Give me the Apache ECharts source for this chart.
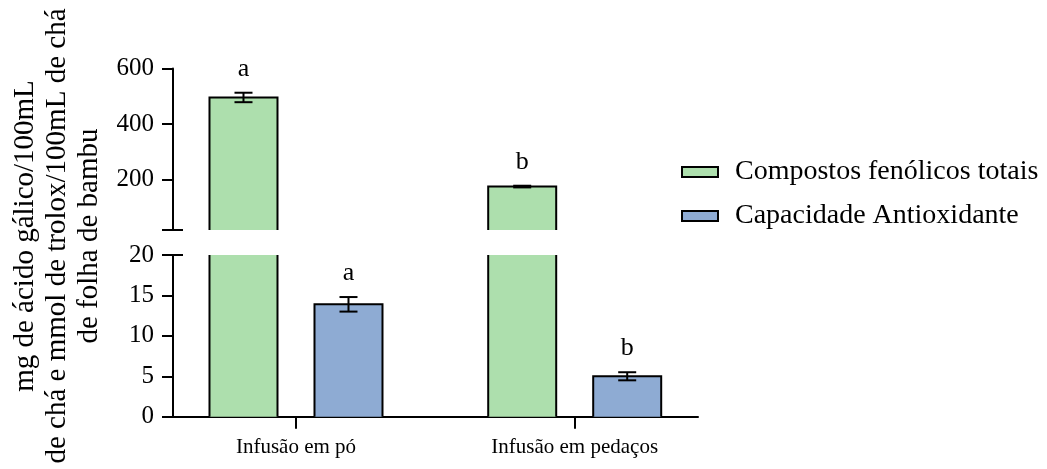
<!DOCTYPE html>
<html>
<head>
<meta charset="utf-8">
<script src="https://cdn.jsdelivr.net/npm/echarts@6/dist/echarts.min.js"></script>
<style>html,body{margin:0;padding:0;background:#fff}#c{width:1047px;height:469px}</style>
</head>
<body>
<div id="c"></div>
<script>
// ---- data ----
const categories = ['Infusão em pó', 'Infusão em pedaços'];
const fenolicos = [496, 176];
const fenolicosErr = [17, 3];
const fenolicosLetters = ['a', 'b'];
const antioxidante = [13.9, 5.0];
const antioxidanteErr = [0.9, 0.5];
const antioxidanteLetters = ['a', 'b'];
const topTicks = [200, 400, 600];
const bottomTicks = [0, 5, 10, 15, 20];
const seriesNames = ['Compostos fenólicos totais', 'Capacidade Antioxidante'];
const yTitle = 'mg de ácido gálico/100mL\nde chá e mmol de trolox/100mL de chá\nde folha de bambu';

// ---- styling ----
const FONT = "'Liberation Serif', 'Times New Roman', serif";
const GREEN = '#addfad';
const BLUE = '#8eabd3';
const TOP_RANGE = [20, 600];
const BOT_RANGE = [0, 20];
const X_RANGE = [-0.4413, 1.4424];

const chart = echarts.init(document.getElementById('c'), null, {renderer: 'canvas'});

function makeSeries(name, gridIdx, yAxisIdx, values, errs, letters, side, color, range) {
  const data = values.map((v, i) => [i, v, errs[i]]);
  return {
    type: 'custom',
    name: name,
    xAxisIndex: gridIdx,
    yAxisIndex: yAxisIdx,
    itemStyle: {color: color},
    encode: {x: 0, y: 1},
    data: data,
    renderItem: function (params, api) {
      const idx = api.value(0), v = api.value(1), e = api.value(2);
      const ymin = range[0], ymax = range[1];
      if (v <= ymin) return;
      const half = 34;
      const cx = api.coord([idx, ymin])[0] + side * 52.5;
      const yBase = api.coord([idx, Math.max(ymin, 0)])[1];
      const clipped = v > ymax;
      const yTop = api.coord([idx, Math.min(v, ymax)])[1];
      const ls = {stroke: '#000', lineWidth: 2, fill: null};
      const children = [{
        type: 'rect',
        shape: {x: cx - half, y: yTop, width: 2 * half, height: yBase - yTop},
        style: {fill: color}
      }];
      if (clipped) {
        children.push({type: 'line', shape: {x1: cx - half, y1: yTop, x2: cx - half, y2: yBase}, style: ls});
        children.push({type: 'line', shape: {x1: cx + half, y1: yTop, x2: cx + half, y2: yBase}, style: ls});
      } else {
        children.push({type: 'polyline', shape: {points: [[cx - half, yBase], [cx - half, yTop], [cx + half, yTop], [cx + half, yBase]]}, style: ls});
        const yHi = api.coord([idx, v + e])[1];
        const yLo = api.coord([idx, v - e])[1];
        children.push({type: 'line', shape: {x1: cx, y1: yHi, x2: cx, y2: yLo}, style: ls});
        children.push({type: 'line', shape: {x1: cx - 9, y1: yHi, x2: cx + 9, y2: yHi}, style: ls});
        children.push({type: 'line', shape: {x1: cx - 9, y1: yLo, x2: cx + 9, y2: yLo}, style: ls});
        children.push({
          type: 'text',
          style: {text: letters[params.dataIndex], x: cx, y: yHi - 24, align: 'center', verticalAlign: 'middle',
                  fontSize: 26, fontFamily: FONT, fill: '#000'}
        });
      }
      return {type: 'group', children: children};
    }
  };
}

const axisLineStyle = {color: '#000', width: 2};
const labelStyle = {color: '#000', fontSize: 25, fontFamily: FONT, margin: 19};

const option = {
  animation: false,
  backgroundColor: '#fff',
  grid: [
    {left: 173, top: 68.5, width: 525, height: 161.5},
    {left: 173, top: 255, width: 525, height: 161.7}
  ],
  xAxis: [
    {type: 'value', gridIndex: 0, min: X_RANGE[0], max: X_RANGE[1], show: false},
    {type: 'value', gridIndex: 1, min: X_RANGE[0], max: X_RANGE[1],
     axisLine: {show: true, onZero: false, lineStyle: axisLineStyle},
     axisTick: {show: true, length: 12, lineStyle: axisLineStyle, customValues: [0, 1]},
     axisLabel: {customValues: [0, 1], formatter: v => categories[Math.round(v)], color: '#000',
                 fontSize: 21, fontFamily: FONT, margin: 20},
     splitLine: {show: false}}
  ],
  yAxis: [
    {type: 'value', gridIndex: 0, min: TOP_RANGE[0], max: TOP_RANGE[1], position: 'left',
     axisLine: {show: true, onZero: false, lineStyle: axisLineStyle},
     axisTick: {show: true, length: 11, lineStyle: axisLineStyle, customValues: [TOP_RANGE[0]].concat(topTicks)},
     axisLabel: Object.assign({customValues: topTicks}, labelStyle),
     splitLine: {show: false}},
    {type: 'value', gridIndex: 0, min: TOP_RANGE[0], max: TOP_RANGE[1], position: 'left',
     axisLine: {show: false, onZero: false},
     axisTick: {show: true, inside: true, length: 10, lineStyle: axisLineStyle, customValues: [TOP_RANGE[0]]},
     axisLabel: {show: false}, splitLine: {show: false}},
    {type: 'value', gridIndex: 1, min: BOT_RANGE[0], max: BOT_RANGE[1], position: 'left',
     axisLine: {show: true, onZero: false, lineStyle: axisLineStyle},
     axisTick: {show: true, length: 11, lineStyle: axisLineStyle, customValues: bottomTicks},
     axisLabel: Object.assign({customValues: bottomTicks}, labelStyle),
     splitLine: {show: false}},
    {type: 'value', gridIndex: 1, min: BOT_RANGE[0], max: BOT_RANGE[1], position: 'left',
     axisLine: {show: false, onZero: false},
     axisTick: {show: true, inside: true, length: 10, lineStyle: axisLineStyle, customValues: [BOT_RANGE[1]]},
     axisLabel: {show: false}, splitLine: {show: false}}
  ],
  legend: {
    orient: 'vertical',
    left: 676,
    top: 152,
    itemWidth: 36,
    itemHeight: 10,
    itemGap: 14,
    textStyle: {color: '#000', fontSize: 28, fontFamily: FONT, lineHeight: 30, padding: [0, 0, 0, 12]},
    data: [
      {name: seriesNames[0], icon: 'rect', itemStyle: {color: GREEN, borderColor: '#000', borderWidth: 2}},
      {name: seriesNames[1], icon: 'rect', itemStyle: {color: BLUE, borderColor: '#000', borderWidth: 2}}
    ]
  },
  graphic: [{
    type: 'text',
    x: 57, y: 236,
    rotation: Math.PI / 2,
    style: {text: yTitle, align: 'center', verticalAlign: 'middle', fontSize: 29, lineHeight: 32,
            fontFamily: FONT, fill: '#000'}
  }],
  series: [
    makeSeries(seriesNames[0], 0, 0, fenolicos, fenolicosErr, fenolicosLetters, -1, GREEN, TOP_RANGE),
    makeSeries(seriesNames[1], 0, 0, antioxidante, antioxidanteErr, antioxidanteLetters, 1, BLUE, TOP_RANGE),
    makeSeries(seriesNames[0], 1, 2, fenolicos, fenolicosErr, fenolicosLetters, -1, GREEN, BOT_RANGE),
    makeSeries(seriesNames[1], 1, 2, antioxidante, antioxidanteErr, antioxidanteLetters, 1, BLUE, BOT_RANGE)
  ]
};
chart.setOption(option);
</script>
</body>
</html>
